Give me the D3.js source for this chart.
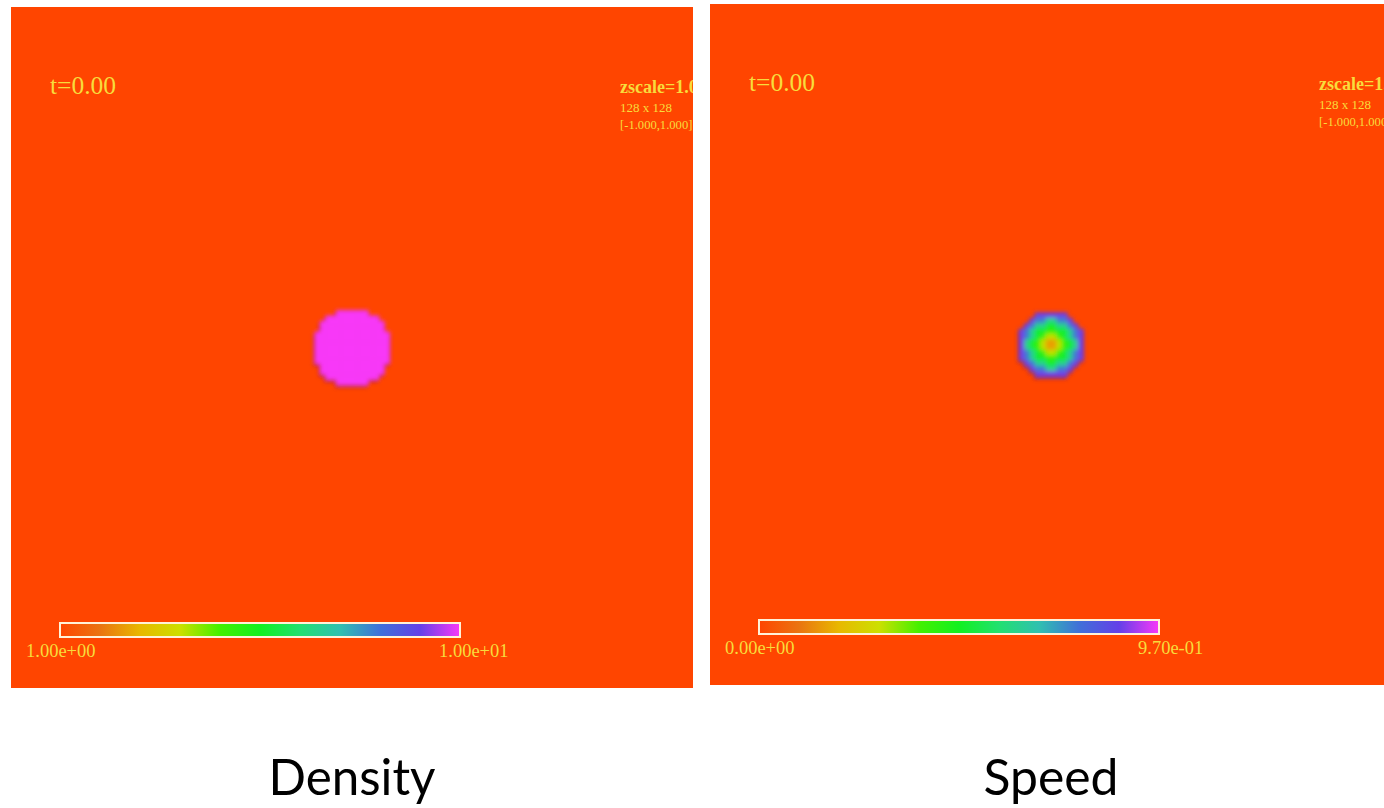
<!DOCTYPE html>
<html>
<head>
<meta charset="utf-8">
<script src="https://cdn.jsdelivr.net/npm/d3@7"></script>
<style>
  html,body{margin:0;padding:0;background:#fff;}
  svg{display:block;}
</style>
</head>
<body>
<svg id="chart" width="1384" height="808"></svg>
<script>
// ---------------- data ----------------
const gridSize = 128;
const panelTitles = ["Density", "Speed"];
const timeLabels = ["t=0.00", "t=0.00"];
const zscaleLabels = ["zscale=1.00", "zscale=1.00"];
const gridLabels = ["128 x 128", "128 x 128"];
const rangeLabels = ["[-1.000,1.000]", "[-1.000,1.000]"];
const densityDomain = [1, 10];
const speedDomain = [0, 0.97];
const colorbarLabels = [["1.00e+00", "1.00e+01"], ["0.00e+00", "9.70e-01"]];
const densityBackground = 1;
const densityBlobValue = 10;
// [row, firstCol, lastCol] of the dense blob
const densityBlobRows = [
  [57, 61, 66], [58, 59, 68], [59, 58, 69], [60, 58, 69], [61, 57, 70],
  [62, 57, 70], [63, 57, 70], [64, 57, 70], [65, 57, 70], [66, 57, 70],
  [67, 58, 69], [68, 58, 69], [69, 59, 68], [70, 61, 66]
];
const speedBackground = 0;
// speed read along the radius of the vortex, one value per ring of cells
const speedProfile = [0.16, 0.30, 0.42, 0.50, 0.62, 0.76, 0.88];
const colormapStops = [0, 0.1, 0.2, 0.3, 0.4, 0.5, 0.6, 0.7, 0.8, 0.9, 1];
const colormapColors = ["#ff4500", "#ea7410", "#e8b800", "#cce000", "#44f000", "#12f020",
                        "#22e070", "#30c0b0", "#4070d8", "#6440e8", "#f838f8"];

// ---------------- layout ----------------
const svg = d3.select("#chart");
const panelW = 682, panelH = 681;
const panels = [{x: 11, y: 7}, {x: 710, y: 4}];
const cmap = d3.scaleLinear().domain(colormapStops).range(colormapColors).interpolate(d3.interpolateRgb).clamp(true);

const defs = svg.append("defs");
const soft = defs.append("filter").attr("id", "soft").attr("x", "-20%").attr("y", "-20%").attr("width", "140%").attr("height", "140%");
soft.append("feGaussianBlur").attr("in", "SourceAlpha").attr("stdDeviation", 2.2).attr("result", "a");
soft.append("feOffset").attr("in", "a").attr("dx", -1.5).attr("dy", 1.5).attr("result", "ao");
soft.append("feFlood").attr("flood-color", "#702060").attr("flood-opacity", 0.55);
soft.append("feComposite").attr("in2", "ao").attr("operator", "in").attr("result", "shadow");
soft.append("feGaussianBlur").attr("in", "SourceGraphic").attr("stdDeviation", 2.0).attr("result", "b");
const merge = soft.append("feMerge");
merge.append("feMergeNode").attr("in", "shadow");
merge.append("feMergeNode").attr("in", "b");

const grad = defs.append("linearGradient").attr("id", "cbar").attr("x1", "0%").attr("x2", "100%");
colormapStops.forEach((s, i) => grad.append("stop").attr("offset", s * 100 + "%").attr("stop-color", colormapColors[i]));

// build cell lists
const densityCells = [];
densityBlobRows.forEach(([r, c0, c1]) => { for (let c = c0; c <= c1; c++) densityCells.push({r, c, v: densityBlobValue}); });
const speedCells = [];
for (let r = 0; r < gridSize; r++) for (let c = 0; c < gridSize; c++) {
  const d = Math.hypot(c + 0.5 - gridSize / 2, r + 0.5 - gridSize / 2);
  const ring = Math.floor(d * 1.1);
  if (ring < speedProfile.length) speedCells.push({r, c, v: speedProfile[ring]});
}
const fields = [
  {domain: densityDomain, bg: densityBackground, cells: densityCells},
  {domain: speedDomain, bg: speedBackground, cells: speedCells}
];

panels.forEach((p, i) => {
  const f = fields[i];
  const norm = d3.scaleLinear().domain(f.domain).range([0, 1]);
  const color = v => cmap(norm(v));
  const x = d3.scaleBand().domain(d3.range(gridSize)).range([0, panelW]);
  const y = d3.scaleBand().domain(d3.range(gridSize)).range([0, panelH]);

  defs.append("clipPath").attr("id", "clip" + i).append("rect").attr("width", panelW).attr("height", panelH);
  const g = svg.append("g").attr("transform", `translate(${p.x},${p.y})`).attr("clip-path", `url(#clip${i})`);
  g.append("rect").attr("width", panelW).attr("height", panelH).attr("fill", color(f.bg));
  g.append("g").attr("filter", "url(#soft)")
    .selectAll("rect").data(f.cells).join("rect")
    .attr("x", d => x(d.c)).attr("y", d => y(d.r))
    .attr("width", x.bandwidth() + 0.6).attr("height", y.bandwidth() + 0.6)
    .attr("fill", d => color(d.v));

  const yellow = "#f8dc3c";
  g.append("text").attr("x", 39).attr("y", 87).attr("fill", yellow)
    .attr("font-family", "Liberation Serif").attr("font-size", 25.5).text(timeLabels[i]);
  g.append("text").attr("x", 609).attr("y", 86).attr("fill", yellow).attr("font-weight", "bold")
    .attr("font-family", "Liberation Serif").attr("font-size", 18).text(zscaleLabels[i]);
  g.append("text").attr("x", 609).attr("y", 105).attr("fill", yellow)
    .attr("font-family", "Liberation Serif").attr("font-size", 13).text(gridLabels[i]);
  g.append("text").attr("x", 609).attr("y", 122).attr("fill", yellow)
    .attr("font-family", "Liberation Serif").attr("font-size", 12.6).text(rangeLabels[i]);

  // colorbar
  const cb = d3.scaleLinear().domain(f.domain).range([49, 449]);
  g.append("rect").attr("x", cb(f.domain[0])).attr("y", 616).attr("width", cb(f.domain[1]) - cb(f.domain[0])).attr("height", 14)
    .attr("fill", "url(#cbar)").attr("stroke", "#fff2d8").attr("stroke-width", 2);
  g.append("text").attr("x", cb(f.domain[0]) - 34).attr("y", 650).attr("fill", yellow)
    .attr("font-family", "Liberation Serif").attr("font-size", 18.5).text(colorbarLabels[i][0]);
  g.append("text").attr("x", cb(f.domain[1]) - 21).attr("y", 650).attr("fill", yellow)
    .attr("font-family", "Liberation Serif").attr("font-size", 18.5).text(colorbarLabels[i][1]);

  // title
  svg.append("text").attr("x", p.x + panelW / 2).attr("y", 795).attr("text-anchor", "middle")
    .attr("font-family", "Lato, 'Open Sans', sans-serif").attr("font-size", 51).attr("fill", "#000")
    .attr("textLength", i === 0 ? 167 : 135).attr("lengthAdjust", "spacingAndGlyphs")
    .text(panelTitles[i]);
});
</script>
</body>
</html>
